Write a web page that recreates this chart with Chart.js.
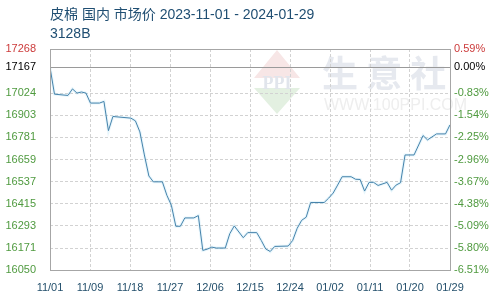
<!DOCTYPE html>
<html lang="zh">
<head>
    <meta charset="UTF-8">
    <title>皮棉 国内 市场价</title>
    <style>
        body {
            margin: 0;
            padding: 0;
            background-color: #ffffff;
        }

        .chart-box {
            position: relative;
            width: 500px;
            height: 300px;
        }
    </style>
</head>
<body>

<div class="chart-box">
    <canvas id="priceChart"></canvas>
</div>

<script src="https://cdn.jsdelivr.net/npm/chart.js"></script>

<script>
    // Datos (precio diario, CNY/t)
    const dates = [
        '2023-11-01', '2023-11-02', '2023-11-05', '2023-11-06', '2023-11-07', '2023-11-08', '2023-11-09',
        '2023-11-10', '2023-11-12', '2023-11-13', '2023-11-14', '2023-11-15', '2023-11-19', '2023-11-20',
        '2023-11-21', '2023-11-22', '2023-11-23', '2023-11-24', '2023-11-26', '2023-11-27', '2023-11-28',
        '2023-11-29', '2023-11-30', '2023-12-01', '2023-12-03', '2023-12-04', '2023-12-05', '2023-12-06',
        '2023-12-07', '2023-12-08', '2023-12-10', '2023-12-11', '2023-12-12', '2023-12-14', '2023-12-15',
        '2023-12-17', '2023-12-18', '2023-12-19', '2023-12-20', '2023-12-21', '2023-12-24', '2023-12-25',
        '2023-12-26', '2023-12-27', '2023-12-28', '2023-12-29', '2024-01-01', '2024-01-02', '2024-01-03',
        '2024-01-04', '2024-01-05', '2024-01-07', '2024-01-08', '2024-01-09', '2024-01-10', '2024-01-11',
        '2024-01-12', '2024-01-13', '2024-01-15', '2024-01-16', '2024-01-17', '2024-01-18', '2024-01-19',
        '2024-01-21', '2024-01-23', '2024-01-24', '2024-01-26', '2024-01-28', '2024-01-29'
    ];
    const prices = [
        17167, 17019, 17012, 17048, 17025, 17031, 17025,
        16970, 16970, 16979, 16818, 16896, 16887, 16872,
        16811, 16684, 16568, 16536, 16536, 16462, 16407,
        16291, 16291, 16337, 16337, 16350, 16158, 16165,
        16176, 16171, 16171, 16250, 16293, 16228, 16256,
        16256, 16213, 16166, 16152, 16180, 16182, 16213,
        16280, 16324, 16341, 16422, 16422, 16446, 16474,
        16518, 16564, 16564, 16550, 16549, 16485, 16533,
        16533, 16516, 16533, 16490, 16518, 16531, 16684,
        16684, 16791, 16767, 16800, 16800, 16850
    ];

    // Etiquetas de los ejes
    const xLabels = ['11/01', '11/09', '11/18', '11/27', '12/06', '12/15', '12/24', '01/02', '01/11', '01/20', '01/29'];
    const yTicks = [16050, 16171, 16293, 16415, 16537, 16659, 16781, 16903, 17024, 17167, 17268];
    const pctLabels = ['-6.51%', '-5.80%', '-5.09%', '-4.38%', '-3.67%', '-2.96%', '-2.25%', '-1.54%', '-0.83%', '0.00%', '0.59%'];

    const titleText = '皮棉 国内 市场价 2023-11-01 - 2024-01-29';
    const subTitle = '3128B';

    const basePrice = 17167;
    const startDay = new Date(dates[0]).getTime();
    const totalDays = 89;

    const points = dates.map((d, i) => ({
        x: (new Date(d).getTime() - startDay) / 86400000,
        y: prices[i]
    }));

    function tickColor(value) {
        if (value === 17268) return '#cc3b3b';
        if (value === basePrice) return '#000000';
        return '#4f9a3f';
    }

    const tickFont = { family: "'Liberation Sans', Arial, sans-serif", size: 11 };

    // Marca de agua, títulos, línea base y marco
    const decorPlugin = {
        id: 'decor',
        beforeDraw(chart) {
            const c = chart.ctx;
            c.save();
            // logo en forma de rombo
            const cx = 277, cy = 82, hw = 23, hh = 32;
            c.fillStyle = '#f7e6e6';
            c.beginPath();
            c.moveTo(cx, cy - hh);
            c.lineTo(cx + hw, cy - 4);
            c.lineTo(cx - hw, cy - 4);
            c.closePath();
            c.fill();
            c.fillStyle = '#e3f0e1';
            c.beginPath();
            c.moveTo(cx - hw, cy + 6);
            c.lineTo(cx + hw, cy + 6);
            c.lineTo(cx, cy + hh);
            c.closePath();
            c.fill();
            c.fillStyle = '#e1e5ec';
            c.font = "bold 18px 'Liberation Serif', serif";
            c.textAlign = 'center';
            c.textBaseline = 'middle';
            c.fillText('PPI', cx, cy + 2);
            // texto
            c.fillStyle = '#e6e9ef';
            c.font = "bold 36px 'Noto Sans CJK SC', sans-serif";
            c.textAlign = 'left';
            c.fillText('生 意 社', 322, 73);
            c.fillStyle = '#eeeeee';
            c.font = "16px 'Liberation Sans', sans-serif";
            c.fillText('WWW.100PPI.COM', 324, 106);
            c.restore();
        },
        afterDatasetsDraw(chart) {
            const c = chart.ctx;
            const a = chart.chartArea;
            const y = chart.scales.y;
            c.save();
            c.strokeStyle = '#9a9a9a';
            c.lineWidth = 1;
            const by = Math.round(y.getPixelForValue(basePrice)) + 0.5;
            c.beginPath();
            c.moveTo(a.left, by);
            c.lineTo(a.right, by);
            c.stroke();
            c.strokeStyle = '#a6a6a6';
            c.strokeRect(Math.round(a.left) + 0.5, Math.round(a.top) + 0.5,
                Math.round(a.right - a.left), Math.round(a.bottom - a.top));
            c.restore();
        },
        afterDraw(chart) {
            const c = chart.ctx;
            c.save();
            c.fillStyle = '#1f4e72';
            c.font = "14px 'Liberation Sans', 'Noto Sans CJK SC', sans-serif";
            c.textBaseline = 'middle';
            c.fillText(titleText, 50, 15);
            c.fillText(subTitle, 50, 34);
            c.restore();
        }
    };

    const ctx = document.getElementById('priceChart').getContext('2d');
    new Chart(ctx, {
        type: 'line',
        data: {
            datasets: [{
                data: points,
                borderColor: '#4683ab',
                borderWidth: 1,
                pointRadius: 0,
                tension: 0,
                fill: false
            }, {
                data: points,
                borderColor: 'rgba(180, 225, 245, 0.3)',
                borderWidth: 3,
                pointRadius: 0,
                tension: 0,
                fill: false
            }]
        },
        options: {
            responsive: true,
            maintainAspectRatio: false,
            animation: false,
            layout: { padding: { top: 49, left: 0, right: 0, bottom: 0 } },
            plugins: {
                legend: { display: false },
                tooltip: { enabled: false }
            },
            scales: {
                x: {
                    type: 'linear',
                    min: 0,
                    max: totalDays,
                    afterBuildTicks: (s) => { s.ticks = xLabels.map((l, i) => ({ value: i * totalDays / 10 })); },
                    afterFit: (s) => { s.height = 30; },
                    ticks: {
                        autoSkip: false,
                        maxRotation: 0,
                        padding: 11,
                        color: '#24506c',
                        font: tickFont,
                        callback: (v, i) => xLabels[i]
                    },
                    grid: { color: '#d2d2d2', drawTicks: false },
                    border: { display: false, dash: [3, 2] }
                },
                y: {
                    type: 'linear',
                    position: 'left',
                    min: 16050,
                    max: 17268,
                    afterBuildTicks: (s) => { s.ticks = yTicks.map(v => ({ value: v })); },
                    afterFit: (s) => { s.width = 50; },
                    ticks: {
                        autoSkip: false,
                        padding: 14,
                        font: tickFont,
                        color: (c) => tickColor(c.tick.value),
                        callback: (v) => String(v)
                    },
                    grid: {
                        drawTicks: false,
                        color: (c) => (c.tick && c.tick.value === basePrice) ? 'rgba(0,0,0,0)' : '#d2d2d2'
                    },
                    border: { display: false, dash: [3, 2] }
                },
                y2: {
                    type: 'linear',
                    position: 'right',
                    min: 16050,
                    max: 17268,
                    afterBuildTicks: (s) => { s.ticks = yTicks.map(v => ({ value: v })); },
                    afterFit: (s) => { s.width = 50; },
                    ticks: {
                        autoSkip: false,
                        padding: 4,
                        font: tickFont,
                        color: (c) => tickColor(c.tick.value),
                        callback: (v, i) => pctLabels[i]
                    },
                    grid: { display: false, drawTicks: false },
                    border: { display: false }
                }
            }
        },
        plugins: [decorPlugin]
    });
</script>

</body>
</html>
